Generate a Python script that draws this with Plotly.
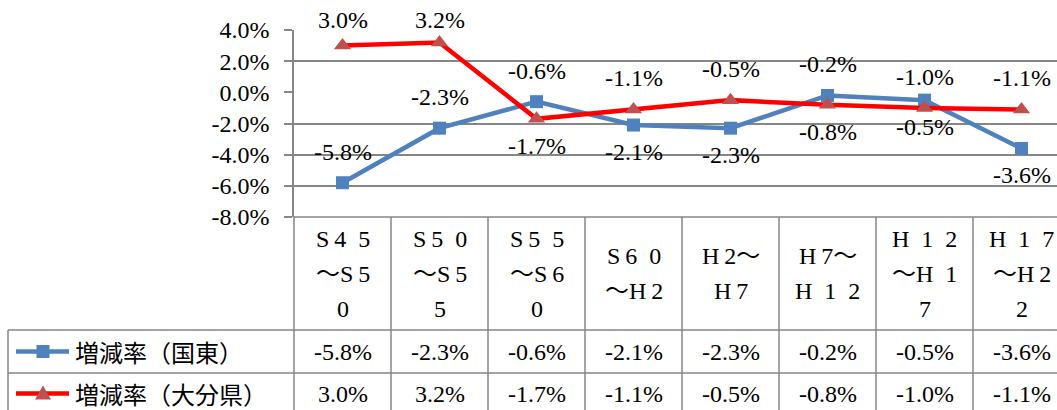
import plotly.graph_objects as go

# ---------------- data ----------------
periods = ["S45～S50", "S50～S55", "S55～S60", "S60～H2",
           "H2～H7", "H7～H12", "H12～H17", "H17～H22"]
E = "\u2002"  # en space (visual spacing of full-width digits)
T = "\u2009"  # thin space
header_lines = [["S" + T + "4" + E + "5", "～S" + T + "5", "0"],
                ["S" + T + "5" + E + "0", "～S" + T + "5", "5"],
                ["S" + T + "5" + E + "5", "～S" + T + "6", "0"],
                ["S" + T + "6" + E + "0", "～H" + T + "2"],
                ["H" + T + "2～", "H" + T + "7"],
                ["H" + T + "7～", "H" + E + "1" + E + "2"],
                ["H" + E + "1" + E + "2", "～H" + E + "1", "7"],
                ["H" + E + "1" + E + "7", "～H" + T + "2", "2"]]
kunisaki = [-5.8, -2.3, -0.6, -2.1, -2.3, -0.2, -0.5, -3.6]
oita = [3.0, 3.2, -1.7, -1.1, -0.5, -0.8, -1.0, -1.1]
series_names = ["増減率（国東）", "増減率（大分県）"]
y_ticks = [-8, -6, -4, -2, 0, 2, 4]
y_tick_text = ["-8.0%", "-6.0%", "-4.0%", "-2.0%", "0.0%", "2.0%", "4.0%"]
kunisaki_label_pos = ["above", "above", "above", "below", "below", "above", "below", "below"]
oita_label_pos = ["above", "above", "below", "above", "above", "below", "above", "above"]

# ---------------- geometry / style ----------------
W, H = 1057, 410
PL, PT, PB = 294, 30, 217          # plot area left / top / bottom (px)
PW = W - PL
PH = PB - PT
YMIN, YMAX = -8, 4
BLUE, BLUE_M = "#4F81BD", "#4F81BD"
RED, RED_M = "#FF0000", "#C0504D"
GRID = "#868686"
SERIF = "Liberation Serif"
CJK = "Noto Sans CJK JP"
FS = 24


def px_x(p):
    return (p - PL) / PW


def px_y(p):
    return (PB - p) / PH


def fmt(v):
    return f"{v:.1f}%"


fig = go.Figure()
fig.add_trace(go.Scatter(x=periods, y=kunisaki, mode="lines+markers", name=series_names[0],
                         line=dict(color=BLUE, width=4.5),
                         marker=dict(symbol="square", size=13, color=BLUE_M), cliponaxis=False))
fig.add_trace(go.Scatter(x=periods, y=oita, mode="lines+markers", name=series_names[1],
                         line=dict(color=RED, width=4.5),
                         marker=dict(symbol="triangle-up", size=15, color=RED_M), cliponaxis=False))

annotations = []
shapes = []

# data labels (kept inside the chart area at the top, like Excel does)
LABEL_TOP_MIN = 20
for vals, pos in ((kunisaki, kunisaki_label_pos), (oita, oita_label_pos)):
    for c, v, p in zip(periods, vals, pos):
        if p == "above":
            py = PB - (v - YMIN) / (YMAX - YMIN) * PH
            shift = min(31, py - LABEL_TOP_MIN)
        else:
            shift = -27
        annotations.append(dict(x=c, y=v, xref="x", yref="y", text=fmt(v), showarrow=False,
                                yshift=shift, yanchor="middle",
                                font=dict(family=SERIF, size=FS, color="black")))

# ---------------- data table ----------------
ROW_TOP = [217, 330, 373, 416]
LEG_LEFT = 8
line_style = dict(color=GRID, width=1.5)

# horizontal lines
shapes.append(dict(type="line", xref="paper", yref="paper", x0=0, x1=1.01,
                   y0=px_y(ROW_TOP[0]), y1=px_y(ROW_TOP[0]), line=line_style))
for r in ROW_TOP[1:3]:
    shapes.append(dict(type="line", xref="paper", yref="paper", x0=px_x(LEG_LEFT), x1=1.01,
                       y0=px_y(r), y1=px_y(r), line=line_style))
# vertical lines
shapes.append(dict(type="line", xref="paper", yref="paper", x0=0, x1=0,
                   y0=px_y(ROW_TOP[0]), y1=px_y(ROW_TOP[3]), line=line_style))
for i in range(1, len(periods)):
    shapes.append(dict(type="line", xref="x", yref="paper", x0=i - 0.5, x1=i - 0.5,
                       y0=px_y(ROW_TOP[0]), y1=px_y(ROW_TOP[3]), line=line_style))
shapes.append(dict(type="line", xref="paper", yref="paper", x0=px_x(LEG_LEFT), x1=px_x(LEG_LEFT),
                   y0=px_y(ROW_TOP[1]), y1=px_y(ROW_TOP[3]), line=line_style))

# header text
hc = (ROW_TOP[0] + ROW_TOP[1]) / 2
LS = 35
for c, lines in zip(periods, header_lines):
    n = len(lines)
    for k, t in enumerate(lines):
        yc = hc + (k - (n - 1) / 2) * LS
        annotations.append(dict(x=c, y=px_y(yc), xref="x", yref="paper", text=t, showarrow=False,
                                xanchor="center", yanchor="middle",
                                font=dict(family=SERIF + ", " + CJK, size=24, color="black")))

# value rows + legend keys
row_c = [(ROW_TOP[1] + ROW_TOP[2]) / 2, (ROW_TOP[2] + ROW_TOP[3]) / 2 - 1]
for ri, (vals, name, lc, mc, sym) in enumerate(((kunisaki, series_names[0], BLUE, BLUE_M, "sq"),
                                                (oita, series_names[1], RED, RED_M, "tri"))):
    yc = row_c[ri]
    for c, v in zip(periods, vals):
        annotations.append(dict(x=c, y=px_y(yc), xref="x", yref="paper", text=fmt(v),
                                showarrow=False, xanchor="center", yanchor="middle",
                                font=dict(family=SERIF, size=FS, color="black")))
    shapes.append(dict(type="line", xref="paper", yref="paper", x0=px_x(16), x1=px_x(69),
                       y0=px_y(yc), y1=px_y(yc), line=dict(color=lc, width=4.5)))
    mx = 43
    if sym == "sq":
        shapes.append(dict(type="rect", xref="paper", yref="paper", x0=px_x(mx - 6.5), x1=px_x(mx + 6.5),
                           y0=px_y(yc + 6.5), y1=px_y(yc - 6.5), fillcolor=mc, line=dict(width=0)))
    else:
        path = "M {} {} L {} {} L {} {} Z".format(px_x(mx - 8), px_y(yc + 6), px_x(mx + 8), px_y(yc + 6),
                                                  px_x(mx), px_y(yc - 8))
        shapes.append(dict(type="path", xref="paper", yref="paper", path=path, fillcolor=mc,
                           line=dict(width=0)))
    annotations.append(dict(x=px_x(73), y=px_y(yc), xref="paper", yref="paper", text=name,
                            xanchor="left", yanchor="middle", showarrow=False,
                            font=dict(family=CJK, size=24, color="black")))

fig.update_layout(
    width=W, height=H,
    margin=dict(l=PL, r=0, t=PT, b=H - PB, pad=0),
    paper_bgcolor="white", plot_bgcolor="white",
    showlegend=False,
    xaxis=dict(type="category", categoryorder="array", categoryarray=periods,
               range=[-0.5, -0.5 + PW / 97.0], showticklabels=False, showgrid=False,
               zeroline=False, showline=False, ticks=""),
    yaxis=dict(range=[YMIN, YMAX], tickvals=y_ticks, ticktext=y_tick_text,
               showgrid=True, gridcolor=GRID, gridwidth=1.5,
               zeroline=True, zerolinecolor="white", zerolinewidth=2,
               showline=True, linecolor=GRID, linewidth=1.5,
               ticks="outside", ticklen=8, tickcolor=GRID, tickwidth=1.5,
               ticklabelstandoff=10,
               tickfont=dict(family=SERIF, size=FS, color="black")),
    annotations=annotations,
    shapes=shapes,
)

fig.write_html("out.html", config={"displayModeBar": False},
               post_script="document.body.style.margin='0px';")
